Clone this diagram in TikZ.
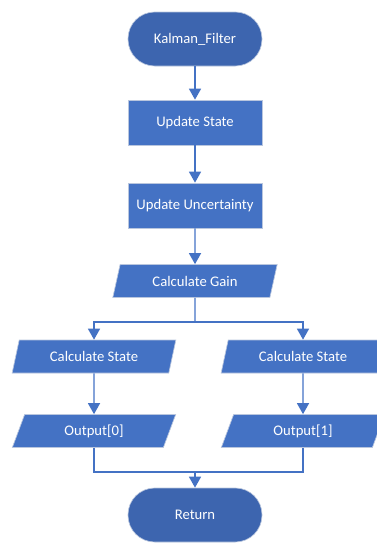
\documentclass[tikz,border=0pt]{standalone}
\usepackage{fontspec}
\setmainfont{Carlito}
\usetikzlibrary{shapes.geometric,arrows.meta}

\definecolor{boxblue}{HTML}{4472C4}
\definecolor{termblue}{HTML}{3D65AF}
\definecolor{edgeline}{HTML}{B9C6DE}

\tikzset{
  terminal/.style={rectangle, rounded corners=20pt, fill=termblue, draw=edgeline,
    line width=0.5pt, minimum width=100.5pt, minimum height=40.5pt,
    text=white, font=\fontsize{11}{13}\selectfont, inner sep=0pt},
  process/.style={rectangle, fill=boxblue, draw=edgeline, line width=0.5pt,
    minimum width=100.5pt, minimum height=33.75pt,
    text=white, font=\fontsize{11}{13}\selectfont, inner sep=0pt},
  iobox/.style={trapezium, trapezium left angle=68, trapezium right angle=112,
    trapezium stretches=true, fill=boxblue, draw=edgeline, line width=0.5pt,
    minimum width=123pt, minimum height=24.75pt,
    text=white, font=\fontsize{11}{13}\selectfont, inner sep=0pt},
  flow/.style={draw=boxblue, line width=1.1pt},
  flowarrow/.style={flow, -{Triangle[length=8.25pt,width=9pt]}}
}

\begin{document}
\begin{tikzpicture}[x=0.75pt, y=-0.75pt]
  \useasboundingbox (0,0) rectangle (377,543);

  % main column
  \node[terminal] (start) at (195,39)    {Kalman\_Filter};
  \node[process]  (us)    at (195,122.5) {Update State};
  \node[process]  (uu)    at (195,205.5) {Update Uncertainty};
  \node[iobox, minimum width=124pt] (gain) at (195,281) {Calculate Gain};

  % two branches
  \node[iobox] (cs0)  at (94,356.5)  {Calculate State};
  \node[iobox] (out0) at (94,431)    {Output[0]};
  \node[iobox] (cs1)  at (303,356.5) {Calculate State};
  \node[iobox] (out1) at (303,431)   {Output[1]};

  \node[terminal] (ret) at (195,515) {Return};

  \coordinate (split) at (195,322);
  \coordinate (merge) at (195,472);

  % connectors
  \draw[flowarrow] (start) -- (us);
  \draw[flowarrow] (us) -- (uu);
  \draw[flowarrow] (uu) -- (gain);
  \draw[flow] (gain) -- (split);
  \draw[flowarrow] (split) -| (cs0);
  \draw[flowarrow] (split) -| (cs1);
  \draw[flowarrow] (cs0) -- (out0);
  \draw[flowarrow] (cs1) -- (out1);
  \draw[flow] (out0) |- (merge);
  \draw[flow] (out1) |- (merge);
  \draw[flowarrow] (merge) -- (ret);
\end{tikzpicture}
\end{document}
